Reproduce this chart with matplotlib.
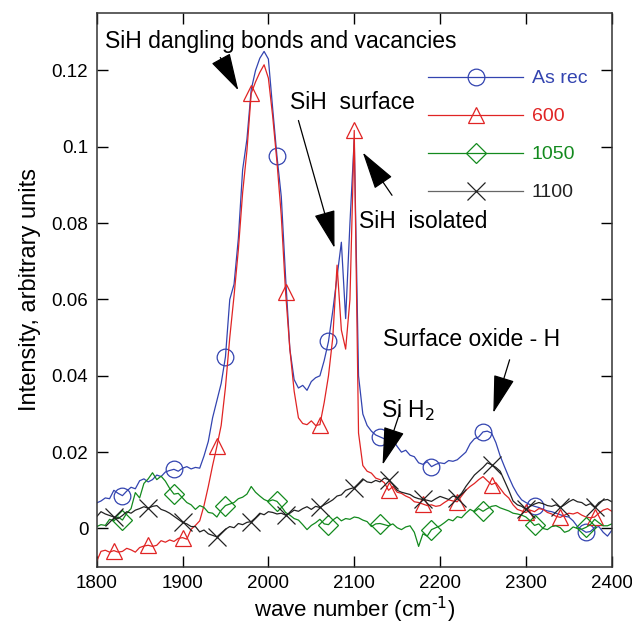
import numpy as np
import matplotlib
matplotlib.use("Agg")
import matplotlib.pyplot as plt
from matplotlib.ticker import FuncFormatter

plt.rcParams['font.family'] = ['Liberation Sans', 'DejaVu Sans']

# wave number grid (cm-1), 5 cm-1 steps
wn = np.arange(1800, 2401, 5)

as_rec = [
    .0067, .0072, .0080, .0078, .0100, .0092, .0086, .0098, .0108, .0104,   # 1800-1845
    .0125, .0130, .0122, .0128, .0140, .0136, .0148, .0152, .0155, .0150,   # 1850-1895
    .0158, .0162, .0156, .0160, .0158, .0190, .0228, .0290, .0335, .0380,   # 1900-1945
    .0450, .0600, .0640, .0760, .0940, .1020, .1150, .1200, .1232, .1250,   # 1950-1995
    .1230, .1100, .0975, .0870, .0660, .0470, .0390, .0368, .0375, .0362,   # 2000-2045
    .0385, .0395, .0400, .0440, .0490, .0570, .0660, .0750, .0550, .0800,   # 2050-2095
    .1020, .0400, .0300, .0270, .0255, .0245, .0240, .0235, .0225, .0232,   # 2100-2145
    .0215, .0200, .0205, .0192, .0188, .0172, .0168, .0175, .0162, .0168,   # 2150-2195
    .0172, .0170, .0178, .0176, .0180, .0190, .0200, .0222, .0235, .0240,   # 2200-2245
    .0253, .0255, .0250, .0225, .0190, .0162, .0135, .0110, .0090, .0075,   # 2250-2295
    .0068, .0062, .0058, .0055, .0050, .0046, .0044, .0040, .0036, .0032,   # 2300-2345
    .0030, .0020, .0005, -.0003, -.0010, -.0008, .0002, .0005, -.0010, -.0020,  # 2350-2395
    -.0005]

t600 = [
    -.0086, -.0060, -.0057, -.0062, -.0058, -.0062, -.0060, -.0052, -.0056, -.0062,
    -.0050, -.0046, -.0044, -.0047, -.0044, -.0032, -.0036, -.0030, -.0034, -.0026,
    -.0024, -.0028, -.0002, .0008, .0020, .0060, .0110, .0165, .0215, .0270,
    .0370, .0500, .0610, .0730, .0880, .0990, .1140, .1170, .1195, .1215,
    .1180, .1080, .0960, .0820, .0620, .0470, .0360, .0290, .0275, .0272,
    .0282, .0270, .0272, .0330, .0400, .0500, .0690, .0520, .0470, .0600,
    .1043, .0250, .0165, .0150, .0145, .0132, .0128, .0120, .0100, .0110,
    .0095, .0092, .0085, .0080, .0070, .0068, .0064, .0060, .0062, .0058,
    .0060, .0068, .0075, .0072, .0070, .0085, .0100, .0110, .0118, .0128,
    .0136, .0125, .0115, .0120, .0105, .0090, .0080, .0062, .0050, .0046,
    .0042, .0048, .0044, .0052, .0050, .0042, .0038, .0032, .0029, .0035,
    .0040, .0038, .0042, .0035, .0030, .0028, .0030, .0040, .0048, .0052,
    .0045]

t1050 = [
    .0005, .0010, .0008, .0024, .0020, .0030, .0022, .0040, .0052, .0094,
    .0080, .0118, .0130, .0146, .0128, .0137, .0124, .0105, .0090, .0092,
    .0080, .0068, .0062, .0050, .0060, .0055, .0042, .0040, .0030, .0048,
    .0060, .0064, .0068, .0078, .0082, .0090, .0110, .0095, .0085, .0076,
    .0071, .0075, .0071, .0058, .0042, .0035, .0026, .0022, .0010, -.0003,
    .0008, .0015, .0024, .0012, .0010, .0022, .0030, .0020, .0026, .0024,
    .0030, .0028, .0022, .0018, .0005, .0012, .0013, .0010, .0007, .0012,
    .0002, -.0003, .0004, .0007, -.0010, -.0047, -.0014, -.0020, -.0003, .0002,
    .0007, .0015, .0024, .0020, .0031, .0028, .0040, .0050, .0044, .0052,
    .0045, .0052, .0058, .0060, .0054, .0050, .0046, .0040, .0038, .0035,
    .0030, .0020, .0008, .0012, .0000, -.0003, .0005, .0007, .0002, -.0010,
    -.0006, .0004, .0000, -.0002, .0003, .0010, .0024, .0015, .0007, .0007,
    .0012]

t1100 = [
    .0031, .0044, .0038, .0034, .0030, .0026, .0034, .0044, .0040, .0048,
    .0052, .0057, .0053, .0058, .0060, .0050, .0046, .0040, .0032, .0024,
    .0016, .0012, .0005, .0005, -.0009, -.0004, -.0014, -.0018, -.0022, -.0012,
    -.0002, .0005, .0002, .0013, .0010, .0016, .0018, .0028, .0040, .0036,
    .0044, .0042, .0038, .0040, .0035, .0040, .0048, .0045, .0052, .0057,
    .0050, .0058, .0055, .0062, .0068, .0075, .0085, .0088, .0100, .0104,
    .0107, .0118, .0130, .0122, .0120, .0126, .0122, .0132, .0128, .0115,
    .0100, .0095, .0092, .0089, .0082, .0078, .0076, .0074, .0071, .0078,
    .0084, .0080, .0076, .0085, .0081, .0092, .0110, .0125, .0140, .0150,
    .0160, .0172, .0167, .0160, .0150, .0125, .0100, .0072, .0062, .0058,
    .0050, .0058, .0064, .0068, .0065, .0060, .0058, .0062, .0055, .0062,
    .0070, .0076, .0070, .0068, .0060, .0065, .0055, .0068, .0074, .0076,
    .0070]

labels = ['As rec', '600', '1050', '1100']
colors = ['#3344b0', '#e02424', '#138a1e', '#222222']
markers = ['o', '^', 'D', 'x']
every = [(6, 12), (4, 8), (6, 12), (4, 8)]
sizes = [12, 12, 10.5, 13]

fig = plt.figure(figsize=(6.32, 6.31), dpi=100)
ax = fig.add_axes([0.153, 0.102, 0.815, 0.877])

for y, lab, c, m, me, ms in zip([as_rec, t600, t1050, t1100], labels, colors, markers, every, sizes):
    ax.plot(wn, y, color=c, lw=0.9, marker=m, markevery=me, ms=ms,
            mfc='none', mec=c, mew=0.9, label=lab)

ax.set_xlim(1800, 2400)
ax.set_ylim(-0.01, 0.135)
ax.set_xticks(np.arange(1800, 2401, 100))
ax.set_yticks([0, 0.02, 0.04, 0.06, 0.08, 0.1, 0.12])
ax.yaxis.set_major_formatter(FuncFormatter(lambda v, p: '%g' % round(v, 3)))
ax.tick_params(direction='in', length=8, width=1, top=True, right=True,
               labelsize=13.5, pad=6)
for s in ax.spines.values():
    s.set_linewidth(1.1)
    s.set_color('#333333')

ax.set_xlabel('wave number (cm$^{\\text{-1}}$)', fontsize=16, labelpad=2)
ax.set_ylabel('Intensity, arbitrary units', fontsize=17, labelpad=8)

leg = ax.legend(loc='upper left', bbox_to_anchor=(0.643, 0.898), frameon=False,
                fontsize=14, handlelength=4.9, handletextpad=0.45,
                labelspacing=1.05, borderpad=0, borderaxespad=0,
                labelcolor='linecolor')
leg.get_lines()[3].set_color('#666666')

# annotations
akw = dict(arrowstyle='-|>,head_length=1.5,head_width=0.42', color='black',
           lw=0.9, mutation_scale=16, shrinkA=0, shrinkB=0)
notes = [
    ('SiH dangling bonds and vacancies', (1810, 0.1275), (1965, 0.1148), (1944, 0.1234)),
    ('SiH  surface', (2025, 0.1115), (2077, 0.0735), (2035, 0.1069)),
    ('SiH  isolated', (2106, 0.0804), (2110, 0.0985), (2144, 0.0873)),
    ('Si H$_2$', (2131, 0.0311), (2133, 0.0167), (2153, 0.0303)),
    ('Surface oxide - H', (2134, 0.0495), (2262, 0.0303), (2281, 0.0442)),
]
for txt, tpos, tip, tail in notes:
    ax.text(tpos[0], tpos[1], txt, fontsize=16.5, ha='left', va='center')
    ax.annotate('', xy=tip, xytext=tail, arrowprops=akw)

fig.savefig('out.png', dpi=100)
